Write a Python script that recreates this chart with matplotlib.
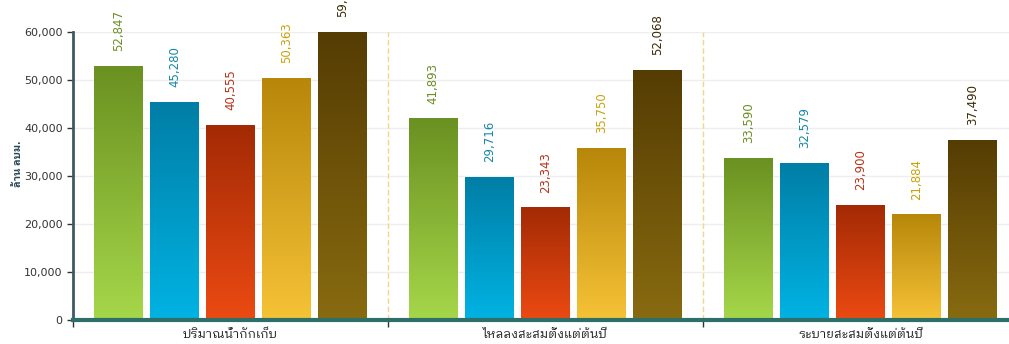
import numpy as np
import matplotlib
matplotlib.use('Agg')
import matplotlib.pyplot as plt
from matplotlib.colors import LinearSegmentedColormap
from matplotlib.ticker import FuncFormatter

categories = ['ปริมาณน้ำกักเก็บ', 'ไหลลงสะสมตั้งแต่ต้นปี', 'ระบายสะสมตั้งแต่ต้นปี']
s1 = [52847, 41893, 33590]
s2 = [45280, 29716, 32579]
s3 = [40555, 23343, 23900]
s4 = [50363, 35750, 21884]
s5 = [59920, 52068, 37490]
series = [s1, s2, s3, s4, s5]

# gradient (top, bottom) and label colour per series
grad = [('#6a9121', '#a6d74a'),
        ('#007ea6', '#00b3e3'),
        ('#a32a05', '#ec4a12'),
        ('#b7870a', '#f6c236'),
        ('#553c03', '#886b10')]
lab_col = ['#6b8e23', '#1687a8', '#b8321a', '#c9a20a', '#3b2a05']

thai_font = ['IBM Plex Sans Thai Looped', 'Noto Sans Thai', 'DejaVu Sans']

fig = plt.figure(figsize=(10.09, 3.44), dpi=100)
ax = fig.add_axes([73/1009, 24/344, 945/1009, 288/344])

x = np.arange(len(categories))
step = 0.178
width = 0.155
for i, vals in enumerate(series):
    cmap = LinearSegmentedColormap.from_list('g%d' % i, [grad[i][1], grad[i][0]])
    bars = ax.bar(x + (i - 2) * step, vals, width, color='none', zorder=3)
    for b, v in zip(bars, vals):
        x0 = b.get_x()
        # vertical gradient fill of the bar
        ax.imshow(np.linspace(0, 1, 256).reshape(-1, 1), cmap=cmap, origin='lower',
                  extent=[x0, x0 + width, 0, v], aspect='auto', zorder=3)
        ax.annotate('{:,}'.format(v), (x0 + width / 2, v), xytext=(0, 11),
                    textcoords='offset points', rotation=90, ha='center', va='bottom',
                    fontsize=8.5, color=lab_col[i], annotation_clip=False)

ax.set_xlim(-0.5, 2.5)
ax.set_ylim(0, 60000)
ax.set_yticks(np.arange(0, 60001, 10000))
ax.yaxis.set_major_formatter(FuncFormatter(lambda v, p: '{:,.0f}'.format(v)))
ax.tick_params(axis='y', labelsize=8, colors='#333333', length=4, width=1)
ax.grid(axis='y', color='#eeeeee', linewidth=1, zorder=0)
ax.set_axisbelow(True)

ax.set_xticks(x)
ax.set_xticklabels(categories, family=thai_font, fontsize=9, color='#222222')
ax.tick_params(axis='x', length=0, pad=6)
ax.set_xticks([-0.5, 0.5, 1.5], minor=True)
ax.tick_params(axis='x', which='minor', length=5, width=1, color='#333333')
for b in [0.5, 1.5]:
    ax.axvline(b, color='#f2d68a', linestyle=(0, (4, 2)), linewidth=1, zorder=1)

for s in ['top', 'right']:
    ax.spines[s].set_visible(False)
ax.spines['left'].set_color('#3d5a64')
ax.spines['left'].set_linewidth(2)
ax.spines['bottom'].set_color('#2f6f6a')
ax.spines['bottom'].set_linewidth(3)
ax.spines['bottom'].set_zorder(5)

fig.text(18/1009, 180/344, 'ล้าน ลบม.', rotation=90, ha='center', va='center',
         family=thai_font, fontsize=7.5, fontweight='bold', color='#2a4a5a')

fig.savefig('out.png', dpi=100)
